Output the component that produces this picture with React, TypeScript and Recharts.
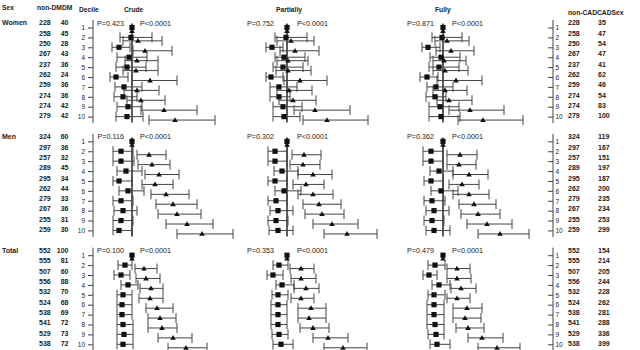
import React from 'react';
import { ScatterChart, Scatter, XAxis, YAxis, ErrorBar, ReferenceLine } from 'recharts';

const W = 640;
const H = 350;
const FONT = '"Liberation Sans", Arial, sans-serif';

const sexes = ['Women', 'Men', 'Total'];
const deciles = ['1', '2', '3', '4', '5', '6', '7', '8', '9', '10'];
const panels = ['Crude', 'Partially', 'Fully'];

// counts (left: non-DM / DM, right: non-CAD / CAD)
const womenNonDM = [228, 258, 250, 267, 237, 262, 259, 274, 274, 279];
const womenDM = [40, 45, 28, 43, 36, 24, 36, 36, 42, 42];
const menNonDM = [324, 297, 257, 289, 295, 262, 279, 267, 255, 259];
const menDM = [60, 36, 32, 45, 34, 44, 33, 36, 31, 30];
const totalNonDM = [552, 555, 507, 556, 532, 524, 538, 541, 529, 538];
const totalDM = [100, 81, 60, 88, 70, 68, 69, 72, 73, 72];

const womenNonCAD = [228, 258, 250, 267, 237, 262, 259, 274, 274, 279];
const womenCAD = [35, 47, 54, 47, 41, 62, 46, 54, 83, 100];
const menNonCAD = [324, 297, 257, 289, 295, 262, 279, 267, 255, 259];
const menCAD = [119, 167, 151, 197, 187, 200, 235, 234, 253, 299];
const totalNonCAD = [552, 555, 507, 556, 532, 524, 538, 541, 529, 538];
const totalCAD = [154, 214, 205, 244, 228, 262, 281, 288, 336, 399];

// p-values per sex group
const crudeP = ['P=0.423', 'P=0.116', 'P=0.100'];
const partialP = ['P=0.752', 'P=0.302', 'P=0.353'];
const fullyP = ['P=0.871', 'P=0.362', 'P=0.479'];
const trendP = ['P<0.0001', 'P<0.0001', 'P<0.0001'];

// [estimate, lower, upper] per decile; squares = non-DM, triangles = DM
const womenCrudeNonDM = [[1, 1, 1], [0.98, 0.76, 1.4], [0.74, 0.6, 0.96], [0.94, 0.7, 1.3], [0.9, 0.68, 1.28], [0.68, 0.56, 0.92], [0.84, 0.66, 1.2], [0.82, 0.64, 1.1], [0.92, 0.7, 1.2], [0.9, 0.68, 1.22]];
const womenCrudeDM = [[1, 1, 1], [1.12, 0.82, 1.6], [1.26, 1.02, 1.8], [1.1, 0.86, 1.52], [1.08, 0.82, 1.52], [1.36, 1.0, 1.9], [1.1, 0.84, 1.54], [1.18, 0.9, 1.66], [1.64, 1.18, 2.3], [1.86, 1.34, 2.66]];
const womenPartialNonDM = [[1, 1, 1], [0.98, 0.76, 1.4], [0.7, 0.58, 0.92], [0.94, 0.76, 1.36], [0.92, 0.72, 1.32], [0.68, 0.58, 0.92], [0.84, 0.66, 1.2], [0.84, 0.66, 1.06], [0.92, 0.72, 1.3], [0.94, 0.72, 1.26]];
const womenPartialDM = [[1, 1, 1], [1.08, 0.8, 1.54], [1.16, 0.86, 1.64], [1.02, 0.8, 1.42], [1.02, 0.78, 1.48], [1.26, 0.94, 1.8], [1.04, 0.8, 1.5], [1.12, 0.84, 1.58], [1.56, 1.14, 2.26], [1.8, 1.32, 2.62]];
const womenFullyNonDM = [[1, 1, 1], [0.98, 0.78, 1.38], [0.7, 0.58, 0.94], [0.96, 0.74, 1.34], [0.92, 0.72, 1.32], [0.68, 0.54, 0.9], [0.86, 0.68, 1.2], [0.84, 0.66, 1.06], [0.94, 0.72, 1.32], [0.96, 0.72, 1.34]];
const womenFullyDM = [[1, 1, 1], [1.08, 0.84, 1.52], [1.16, 0.86, 1.62], [1.02, 0.8, 1.46], [1.04, 0.8, 1.5], [1.26, 0.88, 1.78], [1.04, 0.8, 1.48], [1.12, 0.88, 1.58], [1.54, 1.12, 2.22], [1.8, 1.3, 2.6]];

const menCrudeNonDM = [[1, 1, 1], [0.78, 0.62, 1.02], [0.78, 0.62, 1.04], [0.88, 0.7, 1.2], [0.74, 0.62, 1.0], [0.92, 0.74, 1.24], [0.78, 0.62, 1.02], [0.82, 0.64, 1.1], [0.78, 0.62, 1.02], [0.74, 0.62, 1.0]];
const menCrudeDM = [[1, 1, 1], [1.34, 1.1, 1.68], [1.4, 1.12, 1.76], [1.54, 1.26, 1.94], [1.46, 1.2, 1.82], [1.68, 1.38, 2.14], [1.82, 1.48, 2.3], [1.9, 1.52, 2.38], [2.1, 1.68, 2.62], [2.4, 1.9, 3.02]];
const menPartialNonDM = [[1, 1, 1], [0.76, 0.62, 1.0], [0.76, 0.62, 1.0], [0.9, 0.74, 1.22], [0.76, 0.62, 1.0], [0.94, 0.76, 1.28], [0.78, 0.62, 1.0], [0.82, 0.66, 1.12], [0.78, 0.62, 1.02], [0.82, 0.64, 1.12]];
const menPartialDM = [[1, 1, 1], [1.34, 1.1, 1.68], [1.32, 1.06, 1.66], [1.52, 1.22, 1.9], [1.38, 1.12, 1.74], [1.52, 1.22, 1.92], [1.64, 1.32, 2.08], [1.7, 1.36, 2.14], [1.9, 1.52, 2.42], [2.2, 1.74, 2.8]];
const menFullyNonDM = [[1, 1, 1], [0.76, 0.6, 1.0], [0.76, 0.6, 1.0], [0.92, 0.74, 1.2], [0.76, 0.62, 1.0], [0.96, 0.76, 1.3], [0.78, 0.62, 1.04], [0.82, 0.66, 1.12], [0.78, 0.62, 1.02], [0.82, 0.66, 1.14]];
const menFullyDM = [[1, 1, 1], [1.34, 1.08, 1.68], [1.32, 1.08, 1.66], [1.52, 1.2, 1.9], [1.38, 1.12, 1.72], [1.52, 1.2, 1.92], [1.62, 1.32, 2.06], [1.7, 1.36, 2.14], [1.88, 1.48, 2.38], [2.14, 1.7, 2.72]];

const totalCrudeNonDM = [[1, 1, 1], [0.86, 0.72, 1.0], [0.78, 0.64, 0.96], [0.92, 0.78, 1.12], [0.82, 0.7, 1.0], [0.8, 0.7, 1.0], [0.8, 0.7, 1.0], [0.82, 0.7, 1.02], [0.84, 0.7, 1.02], [0.82, 0.7, 1.02]];
const totalCrudeDM = [[1, 1, 1], [1.24, 1.06, 1.5], [1.28, 1.08, 1.56], [1.38, 1.16, 1.62], [1.36, 1.14, 1.62], [1.5, 1.28, 1.82], [1.56, 1.32, 1.88], [1.6, 1.32, 1.9], [1.82, 1.52, 2.2], [2.08, 1.72, 2.5]];
const totalPartialNonDM = [[1, 1, 1], [0.84, 0.72, 1.02], [0.72, 0.6, 0.92], [0.9, 0.78, 1.14], [0.82, 0.7, 1.02], [0.82, 0.68, 1.0], [0.82, 0.68, 1.0], [0.82, 0.68, 1.0], [0.84, 0.7, 1.02], [0.88, 0.72, 1.12]];
const totalPartialDM = [[1, 1, 1], [1.28, 1.06, 1.54], [1.28, 1.08, 1.58], [1.38, 1.14, 1.64], [1.28, 1.08, 1.54], [1.48, 1.22, 1.78], [1.44, 1.22, 1.78], [1.52, 1.26, 1.84], [1.82, 1.52, 2.22], [2.12, 1.74, 2.6]];
const totalFullyNonDM = [[1, 1, 1], [0.84, 0.7, 1.04], [0.72, 0.6, 0.88], [0.92, 0.78, 1.14], [0.82, 0.7, 1.04], [0.82, 0.68, 1.02], [0.82, 0.68, 1.02], [0.84, 0.68, 1.02], [0.86, 0.7, 1.02], [0.88, 0.74, 1.14]];
const totalFullyDM = [[1, 1, 1], [1.28, 1.08, 1.54], [1.28, 1.08, 1.56], [1.36, 1.16, 1.66], [1.28, 1.08, 1.54], [1.48, 1.2, 1.78], [1.44, 1.2, 1.76], [1.5, 1.26, 1.82], [1.78, 1.5, 2.2], [2.08, 1.7, 2.54]];

// ---- layout ----
const AXIS_L = 93;
const AXIS_R = 553;
const PX_PER_UNIT = 50;
const REF_PX = [132, 287, 443];
const ROW_PX = 9.9;
const FIRST_ROW_PX = 28;
const GROUP_OFFSET = [0, 11.5, 23];
const SQ_SHIFT = -0.05;
const TRI_SHIFT = 0.3;
const P_GAP_L = [8, 13, 9];
const P_GAP_R = [8, 10, 9];
const INK = '#111';
const LINE = '#444';

const Y_DOMAIN = [-FIRST_ROW_PX / ROW_PX, (H - FIRST_ROW_PX) / ROW_PX];
const panelDomain = (k: number) => [1 - (REF_PX[k] - AXIS_L) / PX_PER_UNIT, 1 + (AXIS_R - REF_PX[k]) / PX_PER_UNIT];

const nonDMByGroup = [womenNonDM, menNonDM, totalNonDM];
const dmByGroup = [womenDM, menDM, totalDM];
const nonCADByGroup = [womenNonCAD, menNonCAD, totalNonCAD];
const cadByGroup = [womenCAD, menCAD, totalCAD];
const pByPanel = [crudeP, partialP, fullyP];
const squaresByPanel = [
  [womenCrudeNonDM, menCrudeNonDM, totalCrudeNonDM],
  [womenPartialNonDM, menPartialNonDM, totalPartialNonDM],
  [womenFullyNonDM, menFullyNonDM, totalFullyNonDM],
];
const trianglesByPanel = [
  [womenCrudeDM, menCrudeDM, totalCrudeDM],
  [womenPartialDM, menPartialDM, totalPartialDM],
  [womenFullyDM, menFullyDM, totalFullyDM],
];

const rowTicks = GROUP_OFFSET.flatMap((o) => deciles.map((_, i) => o + i));

const build = (groups: number[][][], shift: number) =>
  groups.flatMap((arr, g) =>
    arr.map(([e, lo, hi], i) => ({
      x: e,
      y: GROUP_OFFSET[g] + i + shift,
      err: hi > lo ? [e - lo, hi - e] : null,
    }))
  );

const numStyle = { fontFamily: FONT, fontSize: 7, fontWeight: 'bold', fill: '#1a1a1a' } as const;
const decStyle = { fontFamily: FONT, fontSize: 6.5, fill: '#1a1a1a' } as const;
const pStyle = { fontFamily: FONT, fontSize: 7.2, fill: '#1a1a1a' } as const;

const tickIndex = (v: number) => rowTicks.findIndex((t) => Math.abs(t - v) < 1e-6);

const LeftTick = (props: any) => {
  const { y, payload } = props;
  const k = tickIndex(payload.value);
  if (k < 0) return <g />;
  const g = Math.floor(k / 10);
  const i = k % 10;
  const top = i === 0 ? y - 8 : y - ROW_PX / 2;
  const bottom = i === 9 ? y + 6 : y + ROW_PX / 2;
  const cy = y - 5 + i * 0.4;
  return (
    <g>
      <line x1={AXIS_L} x2={AXIS_L} y1={top} y2={bottom} stroke={LINE} strokeWidth={1} />
      <line x1={AXIS_L - 5} x2={AXIS_L} y1={y} y2={y} stroke={LINE} strokeWidth={1} />
      <text {...decStyle} x={85} y={y} dy="0.35em" textAnchor="end">{deciles[i]}</text>
      <text {...numStyle} x={39} y={cy} dy="0.35em">{nonDMByGroup[g][i]}</text>
      <text {...numStyle} x={68.5} y={cy} dy="0.35em" textAnchor="end">{dmByGroup[g][i]}</text>
      {i === 0 ? (
        <text {...numStyle} x={2} y={cy} dy="0.35em">{sexes[g]}</text>
      ) : null}
    </g>
  );
};

const RightTick = (props: any) => {
  const { y, payload } = props;
  const k = tickIndex(payload.value);
  if (k < 0) return <g />;
  const g = Math.floor(k / 10);
  const i = k % 10;
  const top = i === 0 ? y - 8 : y - ROW_PX / 2;
  const bottom = i === 9 ? y + 6 : y + ROW_PX / 2;
  const cy = y - 5 + i * 0.4;
  return (
    <g>
      <line x1={AXIS_R} x2={AXIS_R} y1={top} y2={bottom} stroke={LINE} strokeWidth={1} />
      <line x1={AXIS_R - 5} x2={AXIS_R} y1={y} y2={y} stroke={LINE} strokeWidth={1} />
      <text {...decStyle} x={555.5} y={y} dy="0.35em">{deciles[i]}</text>
      <text {...numStyle} x={568} y={cy} dy="0.35em">{nonCADByGroup[g][i]}</text>
      <text {...numStyle} x={598} y={cy} dy="0.35em">{cadByGroup[g][i]}</text>
    </g>
  );
};

const SquareShape = (p: any) => (
  <rect x={p.cx - 2.6} y={p.cy - 2.6} width={5.2} height={5.2} fill={INK} />
);
const TriangleShape = (p: any) => {
  const half = 2.8;
  const h = 4.8;
  return (
    <polygon
      points={`${p.cx},${p.cy - h * 0.6} ${p.cx - half},${p.cy + h * 0.4} ${p.cx + half},${p.cy + h * 0.4}`}
      fill={INK}
    />
  );
};

const makePShape = (k: number) => (p: any) => (
  <g>
    <text {...pStyle} x={p.cx - P_GAP_L[k]} y={p.cy - 5} dy="0.35em" textAnchor="end">{p.payload.left}</text>
    <text {...pStyle} x={p.cx + P_GAP_R[k]} y={p.cy - 5} dy="0.35em">{p.payload.right}</text>
  </g>
);

const headers = [
  { text: 'Sex', x: 2, y: 8 },
  { text: 'non-DMDM', x: 37, y: 8 },
  { text: 'Decile', x: 79, y: 10 },
  { text: 'Crude', x: 124, y: 10 },
  { text: 'Partially', x: 276, y: 10 },
  { text: 'Fully', x: 435, y: 10 },
  { text: 'non-CADCADSex', x: 568, y: 13 },
];

export default function App() {
  return (
    <div style={{ position: 'absolute', left: 0, top: 0, width: W, height: H, background: '#fff' }}>
      <ScatterChart width={W} height={H} margin={{ top: 0, right: 0, bottom: 0, left: 0 }}>
        {panels.map((p, k) => (
          <XAxis key={'x' + p} xAxisId={p} type="number" dataKey="x" domain={panelDomain(k)} hide allowDataOverflow />
        ))}
        <YAxis
          yAxisId="rows"
          orientation="left"
          type="number"
          dataKey="y"
          width={AXIS_L}
          domain={Y_DOMAIN}
          reversed
          allowDataOverflow
          ticks={rowTicks}
          interval={0}
          tick={LeftTick}
          tickLine={false}
          axisLine={false}
        />
        <YAxis
          yAxisId="rowsR"
          orientation="right"
          type="number"
          dataKey="y"
          width={W - AXIS_R}
          domain={Y_DOMAIN}
          reversed
          allowDataOverflow
          ticks={rowTicks}
          interval={0}
          tick={RightTick}
          tickLine={false}
          axisLine={false}
        />
        {panels.flatMap((p, k) =>
          GROUP_OFFSET.map((o, g) => (
            <ReferenceLine
              key={'ref' + p + g}
              xAxisId={p}
              yAxisId="rows"
              segment={[{ x: 1, y: o - 0.45 }, { x: 1, y: o + 9.55 }]}
              stroke="#333"
              strokeWidth={1.6}
            />
          ))
        )}
        {panels.map((p, k) => (
          <Scatter
            key={'sq' + p}
            xAxisId={p}
            yAxisId="rows"
            data={build(squaresByPanel[k], SQ_SHIFT)}
            shape={SquareShape}
            isAnimationActive={false}
          >
            <ErrorBar dataKey="err" direction="x" width={5} stroke={LINE} strokeWidth={1} />
          </Scatter>
        ))}
        {panels.map((p, k) => (
          <Scatter
            key={'tri' + p}
            xAxisId={p}
            yAxisId="rows"
            data={build(trianglesByPanel[k], TRI_SHIFT)}
            shape={TriangleShape}
            isAnimationActive={false}
          >
            <ErrorBar dataKey="err" direction="x" width={5} stroke={LINE} strokeWidth={1} />
          </Scatter>
        ))}
        {panels.map((p, k) => (
          <Scatter
            key={'p' + p}
            xAxisId={p}
            yAxisId="rows"
            data={GROUP_OFFSET.map((o, g) => ({ x: 1, y: o, left: pByPanel[k][g], right: trendP[g] }))}
            shape={makePShape(k)}
            isAnimationActive={false}
          />
        ))}
      </ScatterChart>
      {headers.map((h) => (
        <div
          key={h.text}
          style={{
            position: 'absolute',
            left: h.x,
            top: h.y - 4,
            fontFamily: FONT,
            fontSize: 6.7,
            lineHeight: '8px',
            fontWeight: 'bold',
            color: '#1a1a1a',
            whiteSpace: 'nowrap',
          }}
        >
          {h.text}
        </div>
      ))}
    </div>
  );
}
